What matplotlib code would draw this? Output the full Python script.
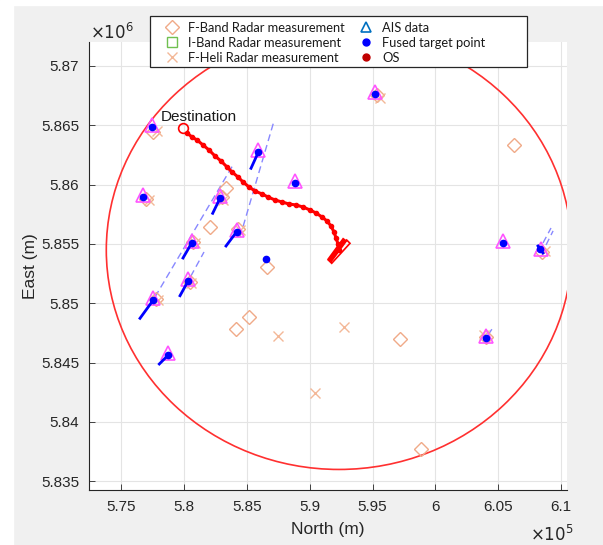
import numpy as np
import matplotlib.pyplot as plt
from matplotlib.patches import Circle, Polygon, Rectangle
from matplotlib.lines import Line2D

# own ship track (north, east) from destination to current position
os_n = [579953, 580247, 580645, 581042, 581519, 581996, 582473, 582950, 583427, 583825,
        584302, 584699, 585176, 585653, 586210, 586687, 587243, 587800, 588356, 588913,
        589469, 590026, 590503, 590980, 591377, 591695, 591934, 592093, 592252, 592331]
os_e = [5864799, 5864352, 5864015, 5863762, 5863340, 5862919, 5862413, 5861992, 5861486, 5861064,
        5860643, 5860221, 5859800, 5859463, 5859210, 5858957, 5858704, 5858535, 5858367, 5858282,
        5858114, 5857861, 5857608, 5857271, 5856934, 5856512, 5856006, 5855501, 5854995, 5854489]

# ship hull outline
hull_n = [592943, 593206, 591751, 591480]
hull_e = [5855332, 5855054, 5853368, 5853646]

# fused target points
fused_n = [577440, 585915, 576773, 582871, 584198, 580621, 588833, 580350, 577568, 578760,
           595193, 605393, 608310, 604018, 586504]
fused_e = [5864832, 5862725, 5858982, 5858847, 5856032, 5855079, 5860112, 5851901, 5850274, 5845637,
           5867640, 5855053, 5854548, 5847045, 5853730]

# AIS data
ais_n = [577440, 585915, 576773, 582871, 584198, 580621, 588833, 580350, 577568, 578760,
         595193, 605393, 608390, 604018]
ais_e = [5865000, 5862890, 5859150, 5859010, 5856200, 5855250, 5860280, 5852070, 5850440, 5845800,
         5867800, 5855220, 5854600, 5847200]

# F-band radar
fband_n = [577544, 576988, 583030, 584302, 580724, 580486, 577783, 595352, 608470, 604018,
           582076, 583348, 586631, 585176, 584119, 597181, 598850, 606244]
fband_e = [5864436, 5858788, 5858957, 5856259, 5855163, 5851791, 5850358, 5867555, 5854320, 5847130,
           5856428, 5859690, 5853030, 5848816, 5847829, 5846961, 5837713, 5863340]

# F-Heli radar
heli_n = [577862, 577226, 583109, 584461, 580883, 580565, 577942, 595591, 608708, 603859,
          587480, 592729, 590423]
heli_e = [5864521, 5858704, 5858704, 5856175, 5855079, 5851707, 5850274, 5867302, 5854405, 5847323,
          5847264, 5848000, 5842434]

# velocity segments of fused tracks
vel_n0 = [585335, 582290, 583348, 579929, 579691, 576511, 578045, 608151]
vel_e0 = [5861376, 5857583, 5854826, 5853814, 5850636, 5848731, 5844879, 5854826]
vel_n1 = [585915, 582871, 584198, 580621, 580350, 577568, 578760, 608549]
vel_e1 = [5862725, 5858847, 5856032, 5855079, 5851901, 5850274, 5845637, 5854236]

# predicted paths (dashed)
pred_n0 = [577703, 579691, 584461, 608549, 608790, 604177]
pred_e0 = [5850526, 5850611, 5855585, 5855079, 5854910, 5847323]
pred_n1 = [583904, 581599, 587164, 609185, 609350, 604654]
pred_e1 = [5861654, 5854320, 5865364, 5856343, 5856100, 5848082]

radius = 18500

xticks = [575000, 580000, 585000, 590000, 595000, 600000, 605000, 610000]
xtick_labels = ['5.75', '5.8', '5.85', '5.9', '5.95', '6', '6.05', '6.1']
yticks = [5835000, 5840000, 5845000, 5850000, 5855000, 5860000, 5865000, 5870000]
ytick_labels = ['5.835', '5.84', '5.845', '5.85', '5.855', '5.86', '5.865', '5.87']

plt.rcParams['font.family'] = ['Liberation Sans', 'DejaVu Sans']

fig = plt.figure(figsize=(6.03, 5.45), dpi=100, facecolor='#f0f0f0')
# white screenshot margins
fig.add_artist(Rectangle((0, 0), 13 / 603, 1, transform=fig.transFigure, color='white', zorder=-1))
fig.add_artist(Rectangle((0, 1 - 5 / 545), 1, 5 / 545, transform=fig.transFigure, color='white', zorder=-1))

ax = fig.add_axes([89 / 603, 1 - 490 / 545, (566.7 - 89) / 603, (490 - 42) / 545])
ax.set_facecolor('white')

ax.add_patch(Circle((os_n[-1], os_e[-1]), radius, fill=False, edgecolor='#ff3030', lw=1.2, zorder=2))

for i in range(len(pred_n0)):
    ax.plot([pred_n0[i], pred_n1[i]], [pred_e0[i], pred_e1[i]], color='#8888ff', lw=1,
            dashes=(5, 3), zorder=3)

ax.plot(fband_n, fband_e, 'D', ms=7.5, mfc='none', mec='#f0aa88', mew=1, zorder=4)
ax.plot(heli_n, heli_e, 'x', ms=6.5, color='#f3b898', mew=1, zorder=4)
ax.plot(ais_n, ais_e, '^', ms=10, mfc='none', mec='#ff55ff', mew=1.2, zorder=5)

for i in range(len(vel_n0)):
    ax.plot([vel_n0[i], vel_n1[i]], [vel_e0[i], vel_e1[i]], color='#0000ff', lw=2, zorder=6)
ax.plot(fused_n, fused_e, 'o', ms=4.5, color='#0000ff', zorder=7)

# own ship track
ax.plot(os_n[1:], os_e[1:], '-o', color='#ff0000', lw=2.2, ms=3, zorder=8)
ax.plot(os_n[0], os_e[0], 'o', ms=7, mfc='none', mec='#ff0000', mew=1.2, zorder=8)
ax.add_patch(Polygon(list(zip(hull_n, hull_e)), closed=True, fill=False, edgecolor='#ff0000', lw=1.2, zorder=8))
ax.plot([hull_n[0] - 250, hull_n[3] + 200], [hull_e[0] - 120, hull_e[3] + 100], color='#ff0000', lw=4,
        zorder=8)
ax.annotate('Destination', xy=(os_n[0], os_e[0]), xytext=(-23, 11), textcoords='offset pixels',
            va='center', ha='left', fontsize=11, color='#1a1a1a')

ax.set_xlim(572456, 610433)
ax.set_ylim(5834257, 5872023)
ax.set_xticks(xticks)
ax.set_xticklabels(xtick_labels)
ax.set_yticks(yticks)
ax.set_yticklabels(ytick_labels)
ax.grid(True, color='#e4e4e4', lw=0.8)
ax.set_axisbelow(True)
ax.tick_params(direction='in', length=4, width=0.6, color='#262626', labelsize=11, labelcolor='#262626', pad=7)
for side in ['top', 'right']:
    ax.spines[side].set_visible(False)
for side in ['left', 'bottom']:
    ax.spines[side].set_color('#262626')
    ax.spines[side].set_linewidth(0.8)

ax.set_xlabel('North (m)', fontsize=12.5, color='#262626', labelpad=6)
ax.set_ylabel('East (m)', fontsize=12.5, color='#262626', labelpad=2)
fig.text(530 / 603, 1 - 535 / 545, r'$\times10^5$', fontsize=12, color='#262626', va='center',
         family='DejaVu Sans')
fig.text(90 / 603, 1 - 33 / 545, r'$\times10^6$', fontsize=12, color='#262626', va='center',
         family='DejaVu Sans')

# legend box drawn separately so its size matches the original
fig.add_artist(Rectangle((150 / 603, 1 - 67 / 545), 377 / 603, 51 / 545, transform=fig.transFigure,
                         facecolor='white', edgecolor='#262626', lw=0.9, zorder=4))
handles = [
    Line2D([], [], ls='none', marker='D', ms=7, mfc='none', mec='#f0aa88'),
    Line2D([], [], ls='none', marker='s', ms=7, mfc='none', mec='#70c050'),
    Line2D([], [], ls='none', marker='x', ms=7, color='#f3b898'),
    Line2D([], [], ls='none', marker='^', ms=7, mfc='none', mec='#0070c0', mew=1.2),
    Line2D([], [], ls='none', marker='o', ms=5, color='#0000ff'),
    Line2D([], [], ls='none', marker='o', ms=5, color='#c00000'),
]
labels = ['F-Band Radar measurement', 'I-Band Radar measurement', 'F-Heli Radar measurement',
          'AIS data', 'Fused target point', 'OS']
leg = fig.legend(handles, labels, ncol=2, loc='upper left',
                 bbox_to_anchor=(158 / 603, 1 - 22 / 545), frameon=False,
                 prop={'family': 'Lato', 'size': 9.3}, borderpad=0, borderaxespad=0,
                 labelspacing=0.22, handletextpad=0.15, handlelength=2.2, columnspacing=0.5)
leg.set_zorder(5)
for t in leg.get_texts():
    t.set_color('#1a1a1a')

fig.savefig('out.png', dpi=100, facecolor=fig.get_facecolor())
